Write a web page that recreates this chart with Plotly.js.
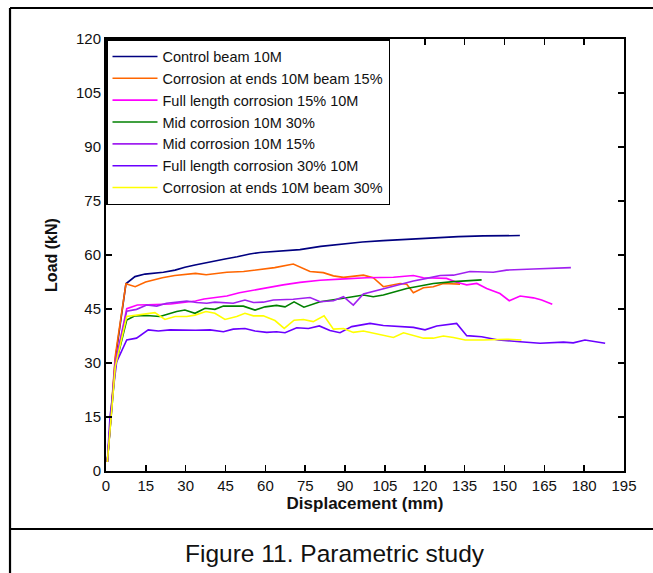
<!DOCTYPE html>
<html>
<head>
<meta charset="utf-8">
<script src="https://cdn.plot.ly/plotly-3.0.1.min.js"></script>
<style>html,body{margin:0;padding:0;background:#fff;}#chart{width:653px;height:573px;}</style>
</head>
<body>
<div id="chart"></div>
<script>
// Series names
const seriesNames = [
  "Control beam 10M",
  "Corrosion at ends 10M beam 15%",
  "Full length corrosion 15% 10M",
  "Mid corrosion 10M 30%",
  "Mid corrosion 10M 15%",
  "Full length corrosion 30% 10M",
  "Corrosion at ends 10M beam 30%"
];
const seriesColors = ["#000080", "#FF6600", "#FF00FF", "#008000", "#A020F0", "#6A00FF", "#FFFF00"];

// Displacement (mm) / Load (kN)
const controlX = [0.5, 3.5, 7.5, 10.9, 14.7, 18.8, 21.6, 26, 29.7, 33.5, 36.6, 40.4, 44.8, 49.4, 54.1, 58, 61.7, 68, 73, 80.8, 88.6, 96.5, 104.3, 113.7, 123.2, 132.6, 142, 148.3, 155.8];
const controlY = [2.5, 31, 52, 54, 54.7, 54.9, 55.2, 55.8, 56.6, 57.2, 57.7, 58.3, 58.9, 59.5, 60.3, 60.7, 60.9, 61.1, 61.5, 62.4, 63.1, 63.6, 64, 64.4, 64.7, 65.1, 65.3, 65.4, 65.4];

const endsC15X = [0.5, 3.5, 7.5, 11, 14.9, 21.2, 25.9, 29.8, 33.7, 37.7, 41.6, 45.5, 51.8, 57.3, 63.5, 70.5, 73, 76.8, 81.8, 85.6, 89.4, 96.9, 100.6, 104.4, 110.7, 113.2, 115.7, 119.5, 123.2, 127, 133.3];
const endsC15Y = [2.5, 32, 52, 51.2, 52.5, 53.7, 54.3, 54.7, 54.9, 54.5, 54.9, 55.2, 55.4, 56, 56.5, 57.5, 56.7, 55.4, 55.1, 54.2, 53.8, 54.4, 53.7, 51.2, 52.1, 51.9, 49.5, 50.9, 51.2, 52.1, 51.9];

const full15X = [0.5, 3.5, 7.8, 11.8, 15.7, 19.6, 24.3, 29, 33.7, 36.9, 41.6, 45.5, 50.2, 55.7, 60.4, 66.7, 73, 80.6, 88.1, 98.1, 108.2, 115.7, 119.5, 128.2, 132, 135.8, 139.6, 143.3, 148.3, 151.8, 155.9, 160.9, 164, 168];
const full15Y = [2.5, 30, 45.1, 46.1, 46.2, 46.2, 46.4, 46.8, 47.2, 47.8, 48.3, 48.6, 49.5, 50.3, 50.9, 51.7, 52.4, 53, 53.3, 53.7, 53.8, 54.3, 53.7, 53.5, 52.4, 51.7, 52.1, 50.7, 49.3, 47.3, 48.6, 48.1, 47.5, 46.3];

const mid30X = [0.5, 3.5, 7.8, 10.9, 15.3, 20.3, 26.6, 29.7, 33.5, 37.3, 41, 44.2, 51.7, 56.1, 59.9, 64.2, 67.4, 70.8, 74.5, 80.6, 89.4, 96.9, 100.6, 104.4, 113.2, 123.2, 130.8, 141.4];
const mid30Y = [2.5, 29, 41.9, 43.1, 43.2, 42.9, 44.3, 44.7, 43.8, 45.2, 44.9, 45.8, 45.8, 44.7, 45.6, 46, 45.6, 47, 45.5, 47, 48, 48.9, 48.4, 48.9, 50.7, 52.1, 52.6, 53.1];

const mid15X = [0.5, 3.5, 7.8, 11.5, 15.3, 19.1, 22.8, 30.4, 34.1, 37.9, 41, 47.9, 52.3, 55.5, 59.2, 63, 70.5, 76.8, 80.6, 85.6, 89.4, 93.1, 96.9, 104.4, 110.7, 115.7, 120.7, 125.8, 130.8, 137, 145.8, 150.8, 160.9, 167.2, 170.9, 175];
const mid15Y = [2.5, 30, 44.4, 44.9, 46.1, 45.8, 46.6, 47.2, 46.8, 46.6, 46.9, 46.6, 47.5, 46.8, 46.9, 47.5, 47.7, 48.2, 47, 47.3, 48.4, 46.1, 49.2, 50.7, 51.9, 52.8, 53.5, 54.3, 54.4, 55.4, 55.2, 55.8, 56.1, 56.3, 56.3, 56.5];

const full30X = [0.5, 1.5, 4, 7.8, 11.5, 15.9, 19.7, 24.1, 33.7, 39.2, 44.2, 47.9, 52.3, 56.1, 60.5, 64.2, 67.4, 71.8, 76.2, 80.3, 84.3, 88.1, 92.5, 99.4, 104.4, 115.7, 120.1, 124.5, 132, 135.8, 141.4, 147.7, 155.9, 163.4, 172.2, 175.9, 180.3, 187.9];
const full30Y = [2.5, 15, 30.3, 36.4, 36.9, 39.2, 38.9, 39.2, 39.1, 39.2, 38.7, 39.4, 39.6, 38.9, 38.5, 38.7, 38.4, 39.8, 39.6, 40.3, 39, 38.4, 40.1, 41, 40.4, 39.9, 39.2, 40.3, 41, 37.6, 37.3, 36.4, 35.9, 35.5, 35.8, 35.6, 36.4, 35.5];

const endsC30X = [0.5, 3.5, 7.8, 10.3, 14, 18.4, 22.2, 26, 30.4, 33.5, 37.6, 41, 44.8, 49.2, 52.3, 55.5, 59.2, 63.6, 67.1, 70.8, 74.3, 78, 82.1, 85.6, 89.4, 93.1, 96.9, 104.4, 108.2, 112, 119.5, 123.2, 127, 130.8, 135.2, 142.1, 150.8, 156.4];
const endsC30Y = [2.5, 29, 42.9, 43.2, 43.5, 44, 42.1, 42.9, 42.9, 43.3, 44.3, 43.8, 42.1, 42.9, 43.8, 43.1, 43.1, 41.8, 39.6, 41.9, 42.1, 41.5, 43.1, 39.4, 39.6, 38.5, 38.9, 37.8, 37.1, 38.4, 36.9, 36.9, 37.5, 37.1, 36.4, 36.4, 36.6, 36.4];

const xTicks = [0, 15, 30, 45, 60, 75, 90, 105, 120, 135, 150, 165, 180, 195];
const yTicks = [0, 15, 30, 45, 60, 75, 90, 105, 120];

const xs = [controlX, endsC15X, full15X, mid30X, mid15X, full30X, endsC30X];
const ys = [controlY, endsC15Y, full15Y, mid30Y, mid15Y, full30Y, endsC30Y];

const traces = seriesNames.map((n, i) => ({
  x: xs[i], y: ys[i], name: n, type: 'scatter', mode: 'lines',
  line: {color: seriesColors[i], width: 1.6}
}));

const FONT = 'Arial, "Liberation Sans", Helvetica, sans-serif';
const axisCommon = {
  showgrid: false, zeroline: false, showline: true, linecolor: '#000', linewidth: 2,
  mirror: 'ticks', ticks: 'inside', ticklen: 6, tickwidth: 1.5, tickcolor: '#000',
  tickfont: {family: FONT, size: 15, color: '#111'}
};

const layout = {
  width: 653, height: 573,
  margin: {l: 106, r: 29, t: 39, b: 102},
  paper_bgcolor: '#fff', plot_bgcolor: '#fff',
  font: {family: FONT, color: '#111'},
  showlegend: true,
  legend: {
    x: 0, y: 1, xanchor: 'left', yanchor: 'top',
    bgcolor: '#fff', bordercolor: '#000', borderwidth: 1.5,
    font: {family: FONT, size: 14.5, color: '#111'},
    itemwidth: 45, tracegroupgap: 0
  },
  xaxis: Object.assign({}, axisCommon, {
    range: [0, 195], tickvals: xTicks, ticktext: xTicks.map(String),
    title: {text: '<b>Displacement (mm)</b>', font: {family: FONT, size: 17, color: '#111'}, standoff: 4}
  }),
  yaxis: Object.assign({}, axisCommon, {
    range: [0, 120], tickvals: yTicks, ticktext: yTicks.map(String),
    title: {text: '<b>Load (kN)</b>', font: {family: FONT, size: 16, color: '#111'}, standoff: 14}
  }),
  shapes: [
    {type: 'line', xref: 'paper', yref: 'paper', x0: -0.1853, x1: -0.1853, y0: -0.3, y1: 1.0718, line: {color: '#000', width: 2.2}},
    {type: 'line', xref: 'paper', yref: 'paper', x0: -0.1853, x1: 1.1, y0: 1.0718, y1: 1.0718, line: {color: '#000', width: 2.2}},
    {type: 'line', xref: 'paper', yref: 'paper', x0: -0.1853, x1: 1.1, y0: -0.1343, y1: -0.1343, line: {color: '#000', width: 2.2}}
  ],
  annotations: [
    {xref: 'paper', yref: 'paper', x: 0.443, y: -0.19, xanchor: 'center', yanchor: 'middle',
     text: 'Figure 11. Parametric study', showarrow: false,
     font: {family: FONT, size: 24.5, color: '#111'}}
  ]
};

Plotly.newPlot('chart', traces, layout, {displayModeBar: false, staticPlot: true});
</script>
</body>
</html>
